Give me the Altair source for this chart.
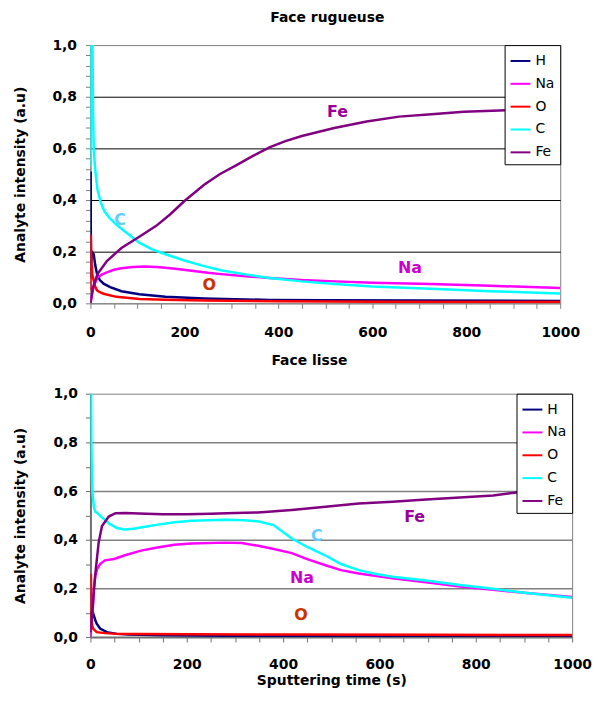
import altair as alt
import pandas as pd

SERIES = ["H", "Na", "O", "C", "Fe"]
COLORS = ["#000080", "#FF00FF", "#FF0000", "#00FFFF", "#800080"]

# ---------------- Face rugueuse (top) ----------------
R_H_t = [0, 0.5, 1, 3, 7, 10, 14, 20, 28, 42, 66, 104, 160, 242, 381, 500, 700, 1000]
R_H_v = [0.10, 0.51, 0.12, 0.20, 0.19, 0.15, 0.114, 0.09, 0.076, 0.063, 0.047, 0.035, 0.025, 0.019, 0.013, 0.012, 0.011, 0.009]

R_Na_t = [0, 5, 10, 15, 25, 35, 50, 66, 90, 115, 140, 160, 190, 215, 250, 278, 330, 381, 450, 520, 600, 725, 850, 1000]
R_Na_v = [0.0, 0.05, 0.08, 0.10, 0.112, 0.12, 0.13, 0.136, 0.141, 0.143, 0.141, 0.138, 0.132, 0.126, 0.118, 0.113, 0.105, 0.098, 0.09, 0.085, 0.08, 0.075, 0.068, 0.059]

R_O_t = [0, 1, 2, 4, 7, 10, 14, 20, 28, 55, 104, 160, 242, 400, 600, 800, 1000]
R_O_v = [0.05, 0.265, 0.16, 0.11, 0.088, 0.065, 0.05, 0.043, 0.037, 0.025, 0.017, 0.014, 0.011, 0.008, 0.006, 0.005, 0.005]

R_C_t = [0, 1, 4, 5.5, 7, 10, 15, 22, 30, 41, 55, 70, 104, 130, 160, 200, 240, 280, 330, 381, 450, 520, 600, 725, 850, 1000]
R_C_v = [0.53, 1.1, 1.1, 0.75, 0.6, 0.52, 0.44, 0.39, 0.355, 0.33, 0.305, 0.283, 0.235, 0.21, 0.19, 0.166, 0.145, 0.127, 0.112, 0.098, 0.085, 0.075, 0.065, 0.056, 0.047, 0.038]

R_Fe_t = [0, 5, 15, 35, 66, 104, 140, 170, 200, 242, 275, 311, 345, 381, 415, 450, 519, 588, 657, 726, 795, 885, 1000]
R_Fe_v = [0.0, 0.06, 0.113, 0.164, 0.214, 0.258, 0.30, 0.345, 0.396, 0.459, 0.50, 0.535, 0.57, 0.604, 0.628, 0.648, 0.679, 0.704, 0.723, 0.732, 0.742, 0.748, 0.755]

R_LABELS = ["Fe", "C", "Na", "O"]
R_LABEL_T = [526, 63, 680, 253]
R_LABEL_V = [0.74, 0.322, 0.137, 0.069]

# ---------------- Face lisse (bottom) ----------------
L_H_t = [0, 1, 4, 6, 10, 13, 20, 34, 55, 80, 150, 300, 500, 1000]
L_H_v = [0.02, 0.10, 0.11, 0.095, 0.07, 0.055, 0.035, 0.02, 0.013, 0.01, 0.007, 0.005, 0.004, 0.003]

L_Na_t = [0, 3, 5, 7, 10, 14, 20, 30, 49, 70, 105, 139, 174, 209, 279, 314, 348, 383, 418, 450, 488, 520, 557, 627, 697, 767, 836, 906, 1000]
L_Na_v = [0.0, 0.08, 0.12, 0.2, 0.25, 0.28, 0.30, 0.315, 0.321, 0.335, 0.355, 0.368, 0.379, 0.384, 0.388, 0.386, 0.375, 0.361, 0.345, 0.32, 0.295, 0.275, 0.261, 0.241, 0.225, 0.208, 0.194, 0.181, 0.165]

L_O_t = [0, 1, 2, 4, 6, 13, 30, 55, 100, 200, 400, 700, 1000]
L_O_v = [0.10, 0.26, 0.07, 0.045, 0.034, 0.02, 0.016, 0.013, 0.012, 0.011, 0.01, 0.009, 0.008]

L_C_t = [0, 1, 2, 3, 4, 7, 10, 14, 25, 40, 55, 70, 90, 110, 140, 175, 210, 280, 320, 350, 380, 418, 450, 488, 520, 557, 590, 627, 697, 767, 836, 906, 1000]
L_C_v = [1.1, 1.1, 0.79, 0.65, 0.6, 0.535, 0.515, 0.51, 0.49, 0.465, 0.448, 0.442, 0.445, 0.452, 0.462, 0.472, 0.478, 0.482, 0.48, 0.475, 0.46, 0.405, 0.37, 0.335, 0.30, 0.275, 0.26, 0.248, 0.232, 0.214, 0.198, 0.181, 0.161]

L_Fe_t = [0, 3.5, 10, 17, 24, 38, 52, 73, 100, 150, 200, 250, 300, 348, 418, 488, 557, 627, 697, 767, 836, 892, 1000]
L_Fe_v = [0.02, 0.095, 0.256, 0.388, 0.456, 0.495, 0.509, 0.51, 0.508, 0.505, 0.505, 0.507, 0.51, 0.512, 0.522, 0.535, 0.549, 0.556, 0.565, 0.573, 0.582, 0.596, 0.61]

L_LABELS = ["Fe", "C", "Na", "O"]
L_LABEL_T = [673, 470, 439, 437]
L_LABEL_V = [0.493, 0.416, 0.244, 0.09]

LABEL_COLORS = {"Fe": "#990099", "C": "#66CCFF", "Na": "#CC00CC", "O": "#CC3300"}

FONT = "DejaVu Sans"


def long_df(pairs):
    rows = []
    for name, (ts, vs) in zip(SERIES, pairs):
        for i, (t, v) in enumerate(zip(ts, vs)):
            rows.append({"series": name, "t": t, "v": v, "idx": i})
    return pd.DataFrame(rows)


def panel(pairs, labels, lt, lv, title, title_dx, title_offset, ystep, ymult,
          grid_color, grid_width, domain_color, domain_width,
          y_label_pad, y_title_pad, x_label_pad, x_title, w, h, row_pad):
    df = long_df(pairs)
    nmin = int(round(1 / ystep))
    yvals = [round(i * ystep, 2) for i in range(nmin + 1)]
    major = f"abs(datum.value*{ymult} - round(datum.value*{ymult})) < 0.001"
    yaxis = alt.Axis(
        values=yvals,
        tickCount=1000,
        labelExpr=f"{major} ? replace(format(datum.value, '.1f'), '.', ',') : ''",
        grid=True,
        gridColor=grid_color,
        gridWidth=grid_width,
        gridOpacity={"condition": {"test": f"{major} && datum.value > 0.01 && datum.value < 0.99", "value": 1}, "value": 0},
        tickSize=5, tickColor=domain_color, domainColor=domain_color, domainWidth=domain_width,
        labelPadding=y_label_pad, titlePadding=y_title_pad,
        labelOverlap=False, labelFlush=False,
        title="Analyte intensity (a.u)",
    )
    xargs = dict(
        values=[i * 50 for i in range(21)],
        tickCount=1000,
        format="d",
        labelExpr="datum.value % 200 == 0 ? datum.label : ''",
        grid=False, tickSize=5, tickColor=domain_color, domainColor=domain_color, domainWidth=domain_width,
        labelPadding=x_label_pad, labelOverlap=False, labelFlush=False,
    )
    if x_title:
        xargs["title"] = x_title
        xargs["titlePadding"] = 2
    else:
        xargs["title"] = None
    xaxis = alt.Axis(**xargs)

    xs = alt.Scale(domain=[0, 1000], nice=False)
    ys = alt.Scale(domain=[0, 1], nice=False)

    lines = alt.Chart(df).mark_line(strokeWidth=2.5, clip=True).encode(
        x=alt.X("t:Q", scale=xs, axis=xaxis),
        y=alt.Y("v:Q", scale=ys, axis=yaxis),
        color=alt.Color(
            "series:N",
            scale=alt.Scale(domain=SERIES, range=COLORS),
            legend=alt.Legend(
                title=None, orient="top-right", offset=0, padding=5,
                fillColor="white", strokeColor="black",
                symbolType="stroke", symbolSize=400, symbolStrokeWidth=2,
                labelFont=FONT, labelFontSize=14, labelColor="black",
                labelOffset=4, rowPadding=row_pad,
            ),
        ),
        order=alt.Order("idx:Q"),
    )
    layers = [lines]
    for lab, t, v in zip(labels, lt, lv):
        tdf = pd.DataFrame({"t": [t], "v": [v], "label": [lab]})
        layers.append(
            alt.Chart(tdf).mark_text(
                font=FONT, fontSize=16, fontWeight="bold", color=LABEL_COLORS[lab],
                align="center", baseline="middle",
            ).encode(x=alt.X("t:Q", scale=xs), y=alt.Y("v:Q", scale=ys), text="label:N")
        )
    return alt.layer(*layers).properties(
        width=w, height=h,
        title=alt.TitleParams(title, font=FONT, fontSize=14, fontWeight="bold",
                              anchor="middle", frame="group", dx=title_dx, offset=title_offset),
    )


top = panel(
    [(R_H_t, R_H_v), (R_Na_t, R_Na_v), (R_O_t, R_O_v), (R_C_t, R_C_v), (R_Fe_t, R_Fe_v)],
    R_LABELS, R_LABEL_T, R_LABEL_V, "Face rugueuse", 2, 13, 0.04, 5,
    "black", 1, "#808080", 1, 9, 25, 17, None, 473, 260, 5,
)
bottom = panel(
    [(L_H_t, L_H_v), (L_Na_t, L_Na_v), (L_O_t, L_O_v), (L_C_t, L_C_v), (L_Fe_t, L_Fe_v)],
    L_LABELS, L_LABEL_T, L_LABEL_V, "Face lisse", -22, 19, 0.1, 5,
    "#808080", 1.5, "#707070", 2, 8, 26, 16, "Sputtering time (s)", 485, 245, 5,
)

chart = alt.vconcat(top, bottom, spacing=13).resolve_scale(
    color="independent"
).resolve_legend(
    color="independent"
).properties(
    padding={"left": 4, "top": 0, "right": 0, "bottom": 0}
).configure_axis(
    labelFont=FONT, labelFontSize=14, labelFontWeight="bold", labelColor="black",
    titleFont=FONT, titleFontSize=14, titleFontWeight="bold", titleColor="black",
).configure_view(stroke="#808080")

chart.save("out.html", embed_options={"renderer": "svg", "actions": False})
